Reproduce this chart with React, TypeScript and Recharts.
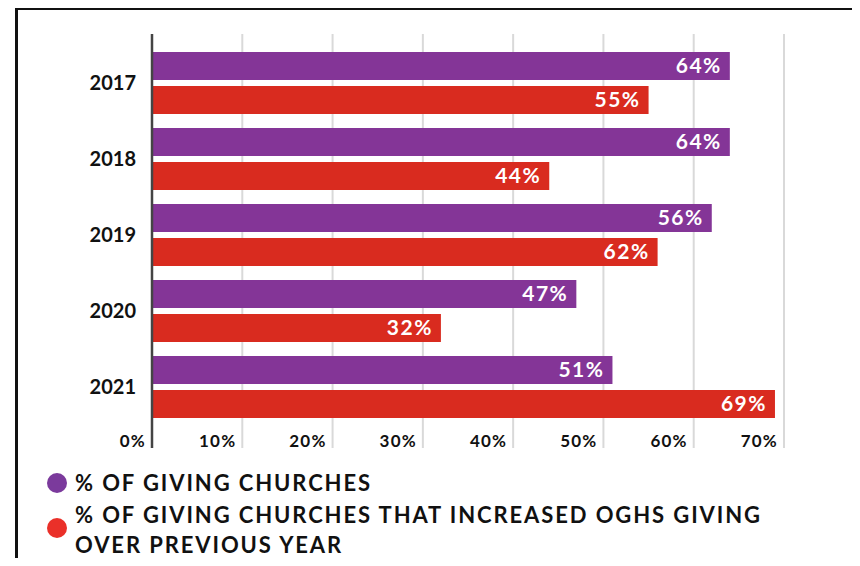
import { BarChart, Bar, XAxis, YAxis, CartesianGrid, LabelList } from 'recharts';

const years = ['2017', '2018', '2019', '2020', '2021'];
// bar lengths as drawn in the picture
const givingChurches = [64, 64, 62, 47, 51];
const increasedGiving = [55, 44, 56, 32, 69];
// printed labels (2019 labels are swapped relative to the bar lengths in the original)
const givingLabels = ['64%', '64%', '56%', '47%', '51%'];
const increasedLabels = ['55%', '44%', '62%', '32%', '69%'];
const xTicks = [0, 10, 20, 30, 40, 50, 60, 70];
const seriesNames = [
  '% OF GIVING CHURCHES',
  '% OF GIVING CHURCHES THAT INCREASED OGHS GIVING',
  'OVER PREVIOUS YEAR',
];

const PURPLE = '#843597';
const RED = '#d92b1f';
const FONT = 'Lato, "DejaVu Sans", sans-serif';

const data = years.map((year, i) => ({
  year,
  giving: givingChurches[i],
  increased: increasedGiving[i],
  givingLabel: givingLabels[i],
  increasedLabel: increasedLabels[i],
}));

const XTick = ({ x, y, payload }: any) => (
  <text
    x={x - 6}
    y={y - 1}
    textAnchor="end"
    fontFamily={FONT}
    fontWeight="bold"
    fontSize={17}
    letterSpacing={1.2}
    fill="#111"
  >
    {payload.value}%
  </text>
);

const labelStyle = { fontFamily: FONT, fontWeight: 'bold', fontSize: 21, letterSpacing: 1.5, fill: '#fff' };

export default function App() {
  return (
    <div style={{ position: 'relative', width: 860, height: 566, margin: -8, overflow: 'hidden', background: '#fff' }}>
      <svg width={860} height={566} style={{ position: 'absolute', left: 0, top: 0 }}>
        {/* frame: the bottom edge is below the page */}
        <rect x={16.5} y={8.5} width={838} height={600} fill="none" stroke="#111" strokeWidth={3} />
      </svg>
      <div style={{ position: 'absolute', left: 0, top: 0 }}>
        <BarChart
          width={860}
          height={566}
          data={data}
          layout="vertical"
          margin={{ top: 34, right: 76, left: 92, bottom: 117 }}
          barSize={28}
          barGap={6}
        >
          <CartesianGrid horizontal={false} stroke="#d9d9d9" strokeWidth={2} />
          <XAxis
            type="number"
            domain={[0, 70]}
            ticks={xTicks}
            height={1}
            axisLine={false}
            tickLine={false}
            tickSize={0}
            tickMargin={0}
            tick={<XTick />}
            interval={0}
          />
          <YAxis
            type="category"
            dataKey="year"
            width={60}
            padding={{ top: 11, bottom: 23 }}
            axisLine={{ stroke: '#444', strokeWidth: 2.5 }}
            tickLine={false}
            tickSize={0}
            tickMargin={16}
            tick={{ fontFamily: FONT, fontWeight: 'bold', fontSize: 20, fill: '#111' }}
          />
          <Bar dataKey="giving" name={seriesNames[0]} fill={PURPLE} isAnimationActive={false}>
            <LabelList dataKey="givingLabel" position="insideRight" offset={8} style={labelStyle} />
          </Bar>
          <Bar dataKey="increased" name={seriesNames[1]} fill={RED} isAnimationActive={false}>
            <LabelList dataKey="increasedLabel" position="insideRight" offset={8} style={labelStyle} />
          </Bar>
        </BarChart>
      </div>
      <div style={{ position: 'absolute', left: 47, top: 473, width: 20, height: 20, borderRadius: 10, background: '#7b3a9c' }} />
      <div style={{ position: 'absolute', left: 47, top: 518, width: 20, height: 20, borderRadius: 10, background: '#ea3029' }} />
      <div
        style={{
          position: 'absolute',
          left: 75,
          top: 468,
          width: 780,
          fontFamily: FONT,
          fontWeight: 'bold',
          fontSize: 22,
          letterSpacing: 1.9,
          lineHeight: '30px',
          color: '#111',
          whiteSpace: 'nowrap',
        }}
      >
        <div style={{ marginBottom: 2 }}>{seriesNames[0]}</div>
        <div>{seriesNames[1]}</div>
        <div>{seriesNames[2]}</div>
      </div>
    </div>
  );
}
